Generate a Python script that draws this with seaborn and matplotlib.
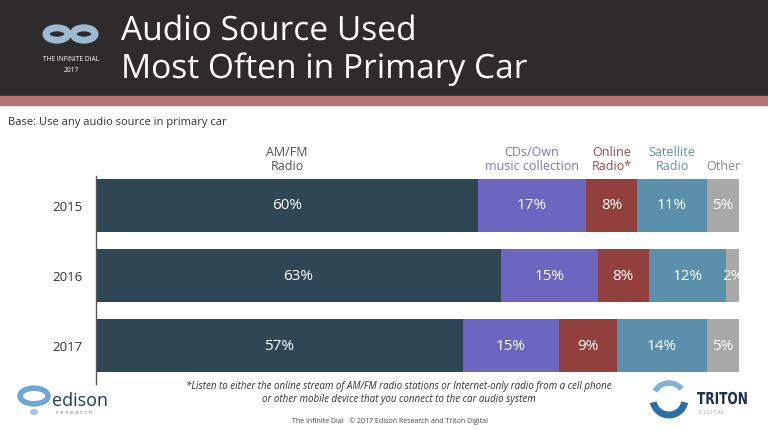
import matplotlib
matplotlib.use("Agg")
import matplotlib.pyplot as plt
import numpy as np
import pandas as pd
import seaborn as sns
from matplotlib.patches import Rectangle, Circle, Arc, Ellipse, PathPatch
from matplotlib.textpath import TextPath
from matplotlib.font_manager import FontProperties
from matplotlib.transforms import Affine2D

YEARS = ["2015", "2016", "2017"]
SOURCES = ["AM/FM\nRadio", "CDs/Own\nmusic collection", "Online\nRadio*", "Satellite\nRadio", "Other"]
AMFM = [60, 63, 57]
CDS = [17, 15, 15]
ONLINE = [8, 8, 9]
SATELLITE = [11, 12, 14]
OTHER = [5, 2, 5]

COLORS = ["#2f4654", "#6b66c0", "#92403e", "#5a90ac", "#a8a8a8"]
LABEL_COLORS = ["#4a5560", "#7b76c4", "#a84444", "#5c93b0", "#8a8a8a"]

W, H = 768, 431

sns.set_style("white")
plt.rcParams["font.family"] = ["Open Sans", "DejaVu Sans"]


def fx(x):
    return x / W


def fy(y):
    return 1 - y / H


def narrow_text(fig, x, y, s, em_px, sx, color, family="Open Sans", weight="normal"):
    # text squeezed horizontally, drawn as a path (baseline at pixel y)
    path = TextPath((0, 0), s, size=1, prop=FontProperties(family=family, weight=weight))
    tr = Affine2D().scale(em_px * sx / W, em_px / H).translate(fx(x), fy(y)) + fig.transFigure
    fig.add_artist(PathPatch(path, transform=tr, facecolor=color, edgecolor="none"))


values = np.array([AMFM, CDS, ONLINE, SATELLITE, OTHER], dtype=float)
shares = values / values.sum(axis=0) * 100
cum = np.cumsum(shares, axis=0)

df = pd.DataFrame({"year": YEARS})
for j in range(len(SOURCES)):
    df[f"cum{j}"] = cum[j]

fig = plt.figure(figsize=(W / 100, H / 100), dpi=100)

# header band
fig.patches.append(Rectangle((0, fy(97)), 1, 97 / H, transform=fig.transFigure,
                             color="#2e2b2c", zorder=0))
fig.patches.append(Rectangle((0, fy(106)), 1, 9 / H, transform=fig.transFigure,
                             color="#b07373", zorder=0))
narrow_text(fig, 121, 41, "Audio Source Used", 33.5, 1.0, "white")
narrow_text(fig, 121, 79, "Most Often in Primary Car", 33.5, 1.0, "white")

# infinite dial logo
for cx in (57, 84):
    fig.patches.append(Circle((fx(cx), fy(35)), 11 / W, transform=fig.transFigure,
                              fill=False, edgecolor="#9dbad3", linewidth=5, zorder=2))
fig.text(fx(71), fy(60), "THE INFINITE DIAL", color="white", fontsize=4.8,
         ha="center", va="center")
fig.text(fx(71), fy(70), "2017", color="white", fontsize=4.8, ha="center", va="center")

fig.text(fx(8), fy(122), "Base: Use any audio source in primary car", color="#333333",
         fontsize=8, va="center")

ax = fig.add_axes([fx(96), fy(385), (739 - 96) / W, (385 - 177) / H])
for j in reversed(range(len(SOURCES))):
    sns.barplot(data=df, x=f"cum{j}", y="year", order=YEARS, orient="h", color=COLORS[j],
                saturation=1, width=53 / 70, linewidth=0, ax=ax)

ax.set_xlim(0, 100)
ax.set_ylim(2 + 39 / 70, -29 / 70)
ax.set_xlabel("")
ax.set_ylabel("")
ax.set_xticks([])
ax.tick_params(axis="y", length=0, pad=10, labelsize=9.5, labelcolor="#333333")
for s in ["top", "right", "bottom"]:
    ax.spines[s].set_visible(False)
ax.spines["left"].set_color("#555555")
ax.spines["left"].set_linewidth(1)

for i in range(len(YEARS)):
    for j in range(len(SOURCES)):
        start = cum[j - 1, i] if j > 0 else 0
        ax.text((start + cum[j, i]) / 2, i, f"{int(values[j, i])}%", color="white",
                fontsize=11, ha="center", va="center")

for j, name in enumerate(SOURCES):
    start = cum[j - 1, 0] if j > 0 else 0
    ax.text((start + cum[j, 0]) / 2, -33 / 70, name, color=LABEL_COLORS[j], fontsize=9,
            ha="center", va="bottom", multialignment="center", clip_on=False,
            linespacing=1.1)

# footnote
fig.text(fx(399), fy(393), "*Listen to either the online stream of AM/FM radio stations or Internet-only radio from a cell phone\n"
         "or other mobile device that you connect to the car audio system",
         color="#333333", fontsize=7, style="italic", ha="center", va="center",
         linespacing=1.25)
fig.text(fx(390), fy(421), "The Infinite Dial   \u00a9 2017 Edison Research and Triton Digital",
         color="#444444", fontsize=5, ha="center", va="center")

# edison logo
fig.patches.append(Circle((fx(34), fy(397)), 14 / W, transform=fig.transFigure,
                          fill=False, edgecolor="#6fa6d6", linewidth=4, zorder=2))
fig.patches.append(Ellipse((fx(34), fy(413)), 8 / W, 6 / H, transform=fig.transFigure,
                           facecolor="#9ec4e6", edgecolor="none"))
fig.text(fx(52), fy(401), "edison", color="#1f3b63", fontsize=13, va="center")
fig.text(fx(56), fy(413), "r e s e a r c h", color="#6a7f99", fontsize=4.5, va="center")

# triton logo
fig.patches.append(Arc((fx(669), fy(400)), 32 / W, 32 / H, theta1=200, theta2=340,
                       transform=fig.transFigure, edgecolor="#2a6fa8", linewidth=5))
fig.patches.append(Arc((fx(669), fy(400)), 32 / W, 32 / H, theta1=55, theta2=135,
                       transform=fig.transFigure, edgecolor="#7fb2dc", linewidth=4))
narrow_text(fig, 697, 405, "TRITON", 16.4, 0.74, "#1c2f4f", family="DejaVu Sans", weight="bold")
fig.text(fx(699), fy(413), "D I G I T A L", color="#8a96a6", fontsize=3.5, va="center")

fig.savefig("out.png", dpi=100, facecolor="white")
